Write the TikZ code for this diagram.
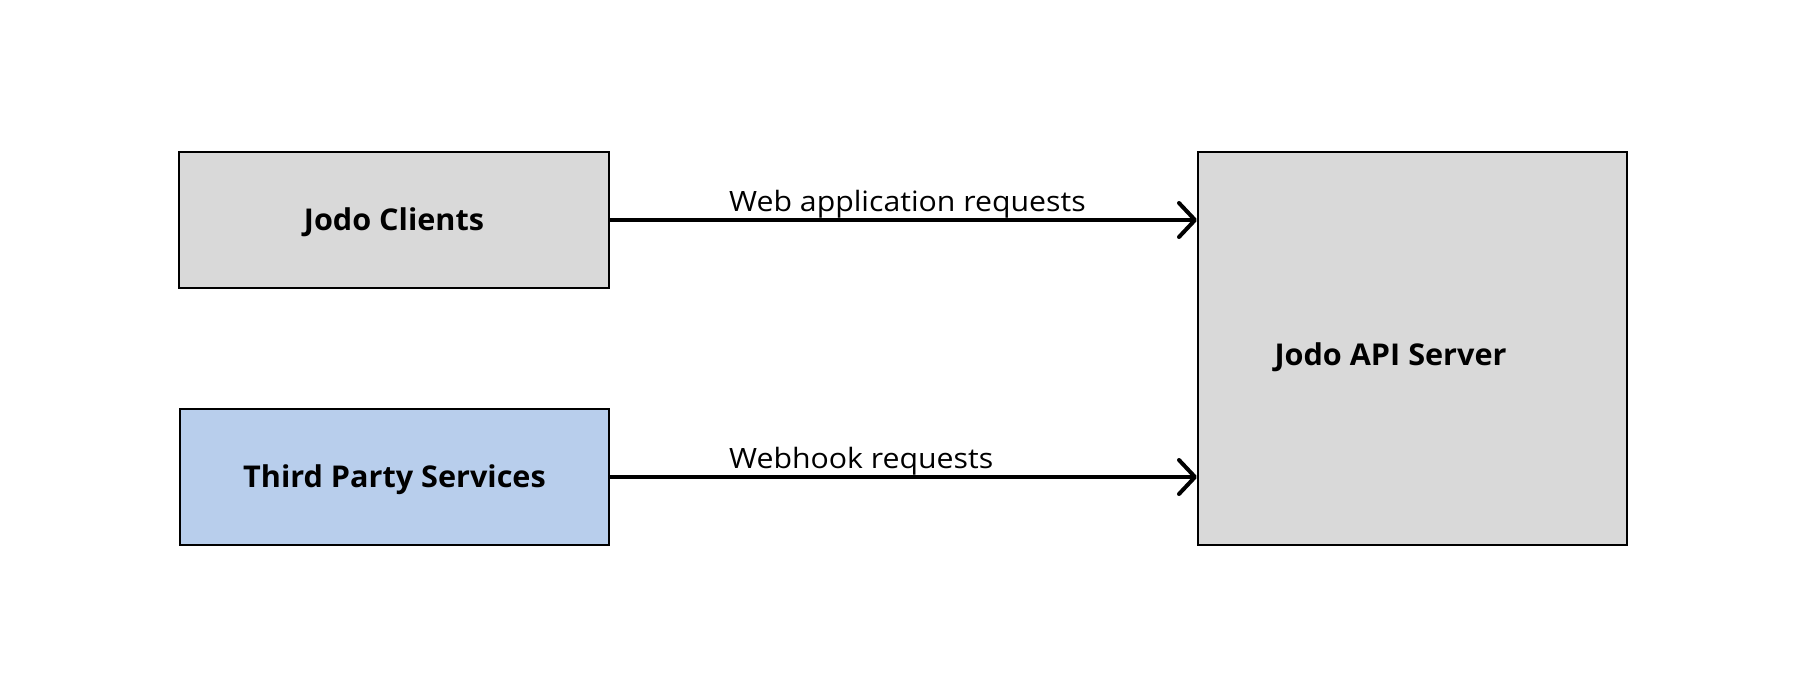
\documentclass[tikz,border=0pt]{standalone}
\usepackage{fontspec}
\setmainfont{Open Sans}[FakeStretch=1.08, BoldFeatures={FakeStretch=1.02}]
\usetikzlibrary{arrows.meta}
\definecolor{boxgrey}{HTML}{D9D9D9}
\definecolor{boxblue}{HTML}{B8CEEC}
\begin{document}
\begin{tikzpicture}[x=1pt,y=-1pt,
  boxfont/.style={font=\fontsize{30}{34}\selectfont\bfseries, text height=21.4pt, text depth=0pt},
  box/.style={draw=black, line width=2pt, inner sep=0pt, boxfont},
  conn/.style={line width=4pt, -{Straight Barb[length=16pt,width=34pt,line cap=round,line join=round]}},
  lbl/.style={anchor=base west, inner sep=0pt, font=\fontsize{28}{34}\selectfont}]
\useasboundingbox (0,0) rectangle (1796,694);
\node[box, fill=boxgrey, minimum width=430pt, minimum height=136pt] (jc) at (394,220) {Jodo Clients};
\node[box, fill=boxblue, minimum width=429pt, minimum height=136pt] (tps) at (394.5,477) {Third Party Services};
\node[box, fill=boxgrey, minimum width=429pt, minimum height=393pt,
  label={[boxfont, inner sep=0pt, xshift=-22pt, yshift=-6pt]center:Jodo API Server}] (srv) at (1412.5,348.5) {};
\draw[conn] (jc.east) -- (jc.east -| srv.west);
\draw[conn] (tps.east) -- (tps.east -| srv.west);
\node[lbl] (l1) at (729,211) {Web application requests};
\node[lbl] (l2) at (729,468) {Webhook requests};
\end{tikzpicture}
\end{document}
